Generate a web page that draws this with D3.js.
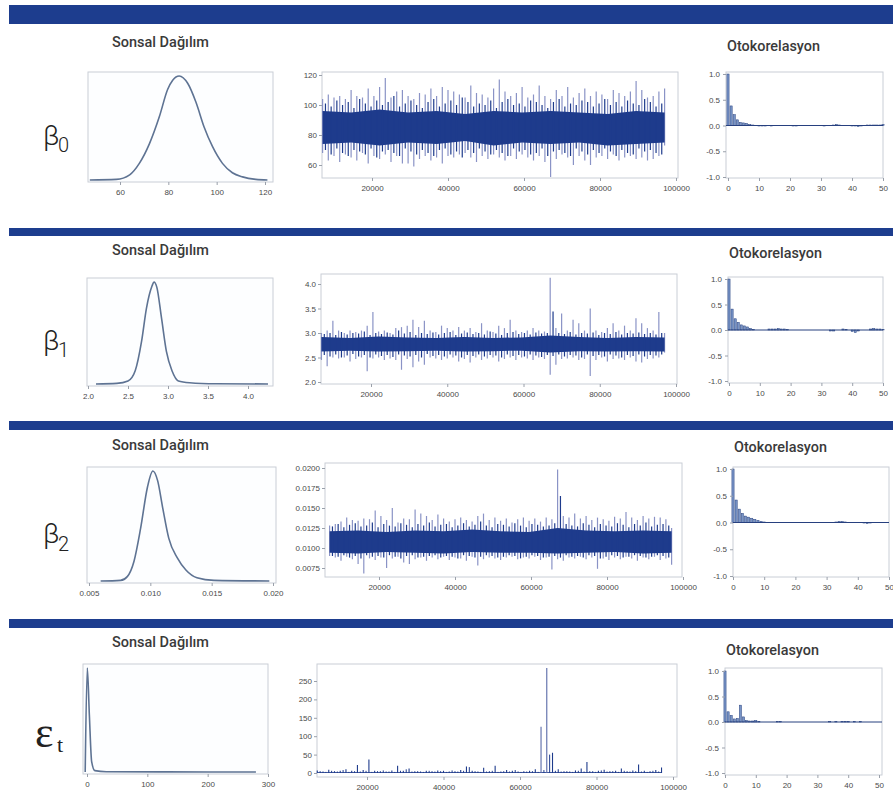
<!doctype html>
<html lang="tr">
<head>
<meta charset="utf-8">
<script src="https://cdnjs.cloudflare.com/ajax/libs/d3/7.8.5/d3.min.js"></script>
<style>
  body { margin: 0; background: #fff; }
  svg { display: block; }
  .tick text { font-family: 'Liberation Sans', Arial, sans-serif; font-size: 8px; fill: #4a4a4a; }
  .tick line { stroke: #9aa0aa; }
  .domain { display: none; }
  .ptitle { font-family: Roboto, 'Noto Sans', sans-serif; font-weight: 500; font-size: 14px; fill: #3a3a3a; }
</style>
</head>
<body>
<script>

// ---- data ----

const paramNames = ["β", "β", "β", "ε"];
const paramSubs = ["0", "1", "2", "t"];

// posterior density curves (x value, relative height)
const densB0x = [47.5, 58.5, 64, 68, 72.2, 76.3, 79.7, 81.8, 84.5, 88, 91.4, 94.8, 98.3, 102.4, 106.5, 110.7, 116.2, 121];
const densB0y = [0, 0.006, 0.05, 0.16, 0.35, 0.61, 0.87, 0.96, 1.0, 0.93, 0.75, 0.51, 0.32, 0.16, 0.07, 0.03, 0.006, 0];
const densB1x = [2.1, 2.36, 2.5, 2.59, 2.67, 2.73, 2.8, 2.825, 2.86, 2.92, 2.98, 3.05, 3.13, 3.27, 3.6, 4.25];
const densB1y = [0, 0.006, 0.03, 0.13, 0.42, 0.74, 0.96, 1.0, 0.95, 0.64, 0.32, 0.13, 0.03, 0.013, 0.003, 0];
const densB2x = [0.00595, 0.00758, 0.00812, 0.00867, 0.00921, 0.00976, 0.0102, 0.0106, 0.0110, 0.0115, 0.0122, 0.0129, 0.0138, 0.0152, 0.0197];
const densB2y = [0, 0.006, 0.04, 0.18, 0.48, 0.85, 1.0, 0.91, 0.67, 0.39, 0.21, 0.10, 0.03, 0.006, 0];
const densEx = [-3, 0.5, 3.9, 7.7, 13, 32, 132, 280];
const densEy = [0, 1.0, 0.55, 0.1, 0.013, 0.003, 0.001, 0];

// trace plots: iteration bins with the extreme high / low values in each
const iters = [7000, 8500, 10000, 11500, 13000, 14500, 16000, 17500, 19000, 20500,
  22000, 23500, 25000, 26500, 28000, 29500, 31000, 32500, 34000, 35500,
  37000, 38500, 40000, 41500, 43000, 44500, 46000, 47500, 49000, 50500,
  52000, 53500, 55000, 56500, 58000, 59500, 61000, 62500, 64000, 65500,
  67000, 68500, 70000, 71500, 73000, 74500, 76000, 77500, 79000, 80500,
  82000, 83500, 85000, 86500, 88000, 89500, 91000, 92500, 94000, 95500, 97000];

const traceB0hi = [104, 107, 105, 106, 104, 110, 106, 105, 111, 106, 112, 118, 105, 109, 110, 106, 104, 108, 107, 111,
  106, 112, 110, 109, 107, 105, 113, 108, 107, 105, 111, 117, 109, 106, 108, 112, 105, 107, 113, 106,
  104, 110, 106, 112, 105, 108, 111, 106, 109, 107, 104, 110, 108, 106, 109, 116, 110, 105, 106, 109, 111];
const traceB0lo = [68, 63, 66, 62, 67, 65, 63, 68, 61, 66, 64, 67, 62, 66, 61, 61, 59, 64, 66, 63,
  65, 61, 66, 65, 67, 68, 65, 62, 66, 64, 67, 65, 63, 66, 64, 67, 65, 63, 66, 62,
  52, 64, 67, 65, 60, 66, 63, 60, 65, 66, 64, 67, 63, 65, 66, 64, 65, 63, 64, 66, 73];

const traceB1hi = [3.0, 3.05, 3.25, 3.05, 3.0, 3.05, 3.02, 3.05, 3.15, 3.43, 3.03, 3.05, 3.0, 3.1, 3.12, 3.15, 3.27, 3.12, 3.25, 3.05,
  3.02, 3.15, 3.1, 3.05, 3.12, 3.05, 3.1, 3.02, 3.2, 3.05, 3.02, 3.15, 3.1, 3.27, 3.05, 3.02, 3.05, 3.1, 3.05, 3.03,
  4.13, 3.1, 3.4, 3.05, 3.27, 3.2, 3.05, 3.5, 3.05, 3.02, 3.1, 3.2, 3.05, 3.15, 3.05, 3.3, 3.2, 3.1, 3.05, 3.43, 3.0];
const traceB1lo = [2.45, 2.32, 2.5, 2.48, 2.5, 2.42, 2.47, 2.5, 2.22, 2.48, 2.5, 2.45, 2.48, 2.45, 2.25, 2.47, 2.3, 2.42, 2.35, 2.5,
  2.48, 2.45, 2.48, 2.5, 2.42, 2.47, 2.4, 2.5, 2.45, 2.48, 2.5, 2.42, 2.47, 2.5, 2.45, 2.5, 2.48, 2.45, 2.5, 2.47,
  2.15, 2.35, 2.47, 2.48, 2.5, 2.45, 2.47, 2.12, 2.45, 2.5, 2.42, 2.47, 2.48, 2.45, 2.5, 2.42, 2.4, 2.47, 2.48, 2.5, 2.6];

const traceB2hi = [0.0128, 0.0130, 0.0133, 0.0138, 0.0135, 0.0134, 0.0137, 0.0136, 0.0147, 0.0140, 0.0135, 0.0150, 0.0132, 0.0137, 0.0136, 0.0148, 0.0143, 0.0140, 0.0135, 0.0142,
  0.0137, 0.0133, 0.0136, 0.0138, 0.0135, 0.0133, 0.0140, 0.0143, 0.0135, 0.0138, 0.0134, 0.0137, 0.0132, 0.0136, 0.0138, 0.0134, 0.0137, 0.0133, 0.0138, 0.0136,
  0.0198, 0.0140, 0.0138, 0.0143, 0.0137, 0.0140, 0.0135, 0.0138, 0.0136, 0.0134, 0.0139, 0.0137, 0.0145, 0.0138, 0.0135, 0.0140, 0.0137, 0.0139, 0.0138, 0.0136, 0.0125];
const traceB2lo = [0.0090, 0.0088, 0.0084, 0.0089, 0.0086, 0.0080, 0.0068, 0.0087, 0.0085, 0.0088, 0.0075, 0.0087, 0.0089, 0.0082, 0.0080, 0.0086, 0.0088, 0.0084, 0.0088, 0.0086,
  0.0089, 0.0085, 0.0088, 0.0087, 0.0084, 0.0089, 0.0078, 0.0086, 0.0088, 0.0087, 0.0085, 0.0088, 0.0089, 0.0086, 0.0088, 0.0087, 0.0089, 0.0085, 0.0088, 0.0073,
  0.0086, 0.0084, 0.0088, 0.0087, 0.0089, 0.0086, 0.0088, 0.0074, 0.0087, 0.0085, 0.0088, 0.0086, 0.0089, 0.0087, 0.0084, 0.0088, 0.0086, 0.0089, 0.0085, 0.0087, 0.0079];

const traceEhi = [7, 4, 9, 5, 6, 10, 6, 22, 8, 37, 6, 5, 4, 7, 20, 6, 12, 5, 4, 6,
  5, 7, 6, 4, 5, 8, 18, 6, 4, 14, 5, 20, 4, 8, 6, 4, 5, 6, 10, 126,
  285, 55, 10, 5, 4, 7, 12, 30, 5, 6, 9, 5, 6, 12, 5, 7, 23, 6, 5, 8, 15];

// second, in-between set of bins: the darker, shorter excursions
const iters2 = [7750, 9250, 10750, 12250, 13750, 15250, 16750, 18250, 19750, 21250,
  22750, 24250, 25750, 27250, 28750, 30250, 31750, 33250, 34750, 36250,
  37750, 39250, 40750, 42250, 43750, 45250, 46750, 48250, 49750, 51250,
  52750, 54250, 55750, 57250, 58750, 60250, 61750, 63250, 64750, 66250,
  67750, 69250, 70750, 72250, 73750, 75250, 76750, 78250, 79750, 81250,
  82750, 84250, 85750, 87250, 88750, 90250, 91750, 93250, 94750, 96250];
const midB0hi = [101, 99, 103, 100, 102, 98, 104, 101, 99, 103, 100, 102, 106, 99, 101, 103, 100, 98, 102, 104,
  99, 101, 103, 100, 105, 102, 99, 101, 100, 103, 98, 102, 104, 100, 101, 99, 103, 102, 100, 98,
  102, 104, 99, 101, 100, 103, 102, 99, 101, 104, 100, 102, 99, 103, 101, 100, 104, 102, 99, 101];
const midB0lo = [70, 67, 71, 68, 66, 70, 69, 67, 71, 65, 69, 70, 68, 66, 71, 69, 67, 70, 68, 66,
  70, 71, 67, 69, 65, 70, 68, 71, 69, 67, 70, 68, 66, 71, 69, 70, 67, 68, 71, 66,
  69, 70, 68, 66, 71, 69, 67, 70, 68, 71, 69, 66, 70, 68, 67, 71, 69, 70, 68, 67];
const midB1hi = [2.98, 3.0, 2.96, 3.02, 2.97, 3.0, 2.99, 3.03, 2.96, 3.0, 2.98, 3.01, 2.97, 3.05, 2.99, 3.02, 2.96, 3.0, 2.98, 3.01,
  2.97, 3.0, 3.02, 2.96, 2.99, 3.01, 2.98, 3.0, 2.97, 3.03, 2.99, 2.96, 3.0, 3.02, 2.98, 3.0, 2.97, 3.01, 2.99, 3.0,
  3.44, 3.0, 2.98, 3.02, 2.97, 3.0, 2.99, 3.01, 2.96, 3.0, 2.98, 3.02, 2.97, 3.0, 2.99, 3.01, 2.98, 3.0, 2.97, 3.0];
const midB1lo = [2.55, 2.52, 2.56, 2.5, 2.54, 2.57, 2.52, 2.55, 2.5, 2.56, 2.53, 2.55, 2.51, 2.56, 2.54, 2.52, 2.55, 2.5, 2.57, 2.53,
  2.55, 2.52, 2.56, 2.54, 2.5, 2.55, 2.53, 2.56, 2.52, 2.55, 2.54, 2.5, 2.56, 2.53, 2.55, 2.52, 2.56, 2.54, 2.51, 2.55,
  2.53, 2.56, 2.52, 2.55, 2.54, 2.5, 2.56, 2.53, 2.55, 2.52, 2.56, 2.54, 2.5, 2.55, 2.53, 2.56, 2.52, 2.55, 2.54, 2.56];
const midB2hi = [0.0127, 0.0130, 0.0126, 0.0129, 0.0131, 0.0127, 0.0128, 0.0132, 0.0126, 0.0130, 0.0128, 0.0127, 0.0131, 0.0129, 0.0126, 0.0130, 0.0128, 0.0132, 0.0127, 0.0129,
  0.0130, 0.0126, 0.0128, 0.0131, 0.0127, 0.0129, 0.0133, 0.0128, 0.0126, 0.0130, 0.0129, 0.0127, 0.0131, 0.0128, 0.0126, 0.0130, 0.0129, 0.0127, 0.0128, 0.0131,
  0.0165, 0.0130, 0.0128, 0.0127, 0.0131, 0.0129, 0.0126, 0.0130, 0.0128, 0.0127, 0.0131, 0.0129, 0.0126, 0.0130, 0.0128, 0.0132, 0.0127, 0.0129, 0.0130, 0.0128];
const midB2lo = [0.0090, 0.0089, 0.0091, 0.0088, 0.0090, 0.0087, 0.0091, 0.0089, 0.0090, 0.0088, 0.0091, 0.0089, 0.0087, 0.0090, 0.0091, 0.0088, 0.0089, 0.0090, 0.0091, 0.0088,
  0.0090, 0.0089, 0.0087, 0.0091, 0.0090, 0.0088, 0.0089, 0.0091, 0.0090, 0.0088, 0.0089, 0.0091, 0.0090, 0.0087, 0.0089, 0.0091, 0.0090, 0.0088, 0.0089, 0.0090,
  0.0088, 0.0091, 0.0089, 0.0090, 0.0088, 0.0091, 0.0090, 0.0087, 0.0089, 0.0091, 0.0090, 0.0088, 0.0089, 0.0091, 0.0090, 0.0088, 0.0089, 0.0091, 0.0090, 0.0088];
const midEhi = [5, 3, 6, 4, 8, 3, 5, 4, 6, 3, 5, 7, 4, 3, 6, 10, 4, 5, 3, 6,
  4, 5, 3, 7, 4, 6, 16, 5, 3, 4, 6, 3, 5, 4, 8, 3, 4, 5, 3, 8,
  50, 6, 4, 5, 3, 6, 4, 5, 3, 7, 4, 5, 3, 6, 4, 5, 4, 3, 6, 4];

// dense central band of each trace
const coreIters = [7000, 14500, 22000, 29500, 37000, 44500, 52000, 59500, 67000, 74500, 82000, 89500, 97000];
const coreB0hi = [96, 95, 97, 95, 96, 94, 96, 95, 96, 95, 94, 96, 95];
const coreB0lo = [74, 75, 73, 75, 74, 76, 73, 75, 74, 75, 73, 74, 75];
const coreB1hi = [2.92, 2.9, 2.93, 2.91, 2.9, 2.92, 2.9, 2.91, 2.95, 2.92, 2.9, 2.92, 2.91];
const coreB1lo = [2.62, 2.64, 2.62, 2.63, 2.64, 2.62, 2.63, 2.64, 2.6, 2.63, 2.62, 2.63, 2.62];
const coreB2hi = [0.0121, 0.0122, 0.0120, 0.0122, 0.0121, 0.0123, 0.0121, 0.0120, 0.0125, 0.0122, 0.0121, 0.0122, 0.0121];
const coreB2lo = [0.0094, 0.0093, 0.0095, 0.0094, 0.0093, 0.0095, 0.0094, 0.0094, 0.0093, 0.0094, 0.0095, 0.0093, 0.0094];
const coreEhi = [3, 3, 3, 3, 3, 3, 3, 3, 3, 3, 3, 3, 3];
const coreElo = [0, 0, 0, 0, 0, 0, 0, 0, 0, 0, 0, 0, 0];

// autocorrelation, lags 0..50
const acfB0 = [1.0, 0.38, 0.21, 0.11, 0.06, 0.05, 0.04, 0.02, 0.01, 0.0, -0.01, -0.01, -0.01, 0.0, -0.01, 0.0, 0.0, 0.0, 0.0, 0.0,
  0.0, -0.01, -0.01, 0.0, 0.0, 0.0, 0.0, 0.0, 0.0, 0.0, 0.0, -0.01, 0.0, 0.0, 0.01, 0.02, 0.01, 0.0, 0.0, 0.0,
  -0.01, -0.01, -0.02, -0.01, 0.0, 0.01, 0.01, 0.01, 0.01, 0.01, 0.02];
const acfB1 = [1.0, 0.41, 0.22, 0.15, 0.10, 0.08, 0.06, 0.03, 0.01, 0.0, 0.0, 0.0, 0.0, 0.02, 0.02, 0.02, 0.03, 0.02, 0.02, 0.01,
  0.0, 0.0, 0.0, 0.0, 0.0, 0.0, 0.0, 0.0, 0.0, 0.0, 0.0, 0.0, 0.0, -0.02, -0.02, 0.0, 0.0, 0.02, 0.01, 0.0,
  -0.03, -0.05, -0.02, 0.0, 0.0, 0.0, 0.02, 0.03, 0.02, 0.02, 0.01];
const acfB2 = [1.0, 0.42, 0.25, 0.17, 0.12, 0.10, 0.08, 0.06, 0.04, 0.02, 0.01, 0.0, 0.0, 0.0, 0.0, 0.0, 0.0, 0.0, 0.0, 0.0,
  0.0, 0.0, 0.0, 0.0, 0.0, 0.0, 0.0, 0.0, 0.0, 0.0, 0.0, 0.0, 0.0, 0.01, 0.02, 0.02, 0.01, 0.0, 0.0, 0.0,
  0.0, 0.0, -0.01, -0.02, -0.01, 0.0, 0.0, 0.0, 0.0, 0.0, 0.0];
const acfE = [1.0, 0.20, 0.13, 0.06, 0.07, 0.33, 0.10, 0.03, 0.02, 0.02, 0.03, 0.01, 0.0, 0.0, 0.0, 0.0, 0.0, 0.01, 0.01, 0.0,
  0.0, 0.0, 0.0, 0.0, 0.0, 0.0, 0.0, 0.0, 0.0, 0.0, 0.0, 0.0, 0.0, 0.0, 0.01, 0.0, 0.01, 0.0, 0.01, 0.01,
  0.01, 0.0, 0.01, 0.0, 0.01, 0.0, 0.0, 0.0, 0.0, 0.0, 0.0];

// tick labels
const densTicks = [[60, 80, 100, 120], [2.0, 2.5, 3.0, 3.5, 4.0], [0.005, 0.010, 0.015, 0.020], [0, 100, 200, 300]];
const densFmt = ["d", ".1f", ".3f", "d"];
const traceXTicks = [20000, 40000, 60000, 80000, 100000];
const traceYTicks = [[60, 80, 100, 120], [2.0, 2.5, 3.0, 3.5, 4.0], [0.0075, 0.0100, 0.0125, 0.0150, 0.0175, 0.0200], [0, 50, 100, 150, 200, 250]];
const traceYFmt = ["d", ".1f", ".4f", "d"];
const acfXTicks = [0, 10, 20, 30, 40, 50];
const acfYTicks = [-1, -0.5, 0, 0.5, 1];

// ---- layout (pixel boxes measured on the picture) ----
const W = 893, H = 801;
const rows = [
  { banner: [5, 19], title: 47, acfTitle: 51, sym: [43, 145, 58, 152],
    dens: [88, 72, 273, 182], densAnchor: [60, 120, 120, 265],
    trace: [322, 72, 678, 178], tx: [372, 676], ty: [60, 120, 165, 75],
    acf: [726, 72, 883, 178], ax: [728, 883], ay: [177, 74] },
  { banner: [228, 8], title: 255, acfTitle: 258, sym: [43, 350, 58, 357],
    dens: [87, 278, 273, 386], densAnchor: [2.0, 4.0, 88, 248],
    trace: [321, 274, 677, 384], tx: [371, 676], ty: [2.0, 4.0, 382, 284],
    acf: [728, 277, 883, 383], ax: [729, 883], ay: [381, 279] },
  { banner: [421, 9], title: 450, acfTitle: 452, sym: [43, 543, 58, 551],
    dens: [87, 467, 276, 583], densAnchor: [0.005, 0.020, 89, 273],
    trace: [325, 463, 682, 577], tx: [379, 683], ty: [0.0075, 0.0200, 568, 468],
    acf: [733, 467, 889, 577], ax: [733, 889], ay: [576, 469] },
  { banner: [619, 9], title: 647, acfTitle: 655, sym: [35, 747, 57, 752],
    dens: [83, 664, 268, 774], densAnchor: [0, 300, 87, 268],
    trace: [317, 664, 677, 777], tx: [367, 673], ty: [0, 250, 773, 681],
    acf: [725, 668, 882, 775], ax: [725, 879], ay: [773, 671] }
];

const dens = [[densB0x, densB0y], [densB1x, densB1y], [densB2x, densB2y], [densEx, densEy]];
const traces = [
  { hi: traceB0hi, lo: traceB0lo, mHi: midB0hi, mLo: midB0lo, cHi: coreB0hi, cLo: coreB0lo },
  { hi: traceB1hi, lo: traceB1lo, mHi: midB1hi, mLo: midB1lo, cHi: coreB1hi, cLo: coreB1lo },
  { hi: traceB2hi, lo: traceB2lo, mHi: midB2hi, mLo: midB2lo, cHi: coreB2hi, cLo: coreB2lo },
  { hi: traceEhi, lo: null, mHi: midEhi, mLo: null, cHi: coreEhi, cLo: coreElo }
];
const acfs = [acfB0, acfB1, acfB2, acfE];

const navy = "#1e3b8c";
const light = "#8a93c6";
const frameCol = "#c9ced6";
const minus = s => s.replace("−", "-");

const svg = d3.select("body").append("svg").attr("width", W).attr("height", H);
svg.append("rect").attr("width", W).attr("height", H).attr("fill", "#fff");

rows.forEach((r, k) => {

  // blue banner
  svg.append("rect").attr("x", 9).attr("y", r.banner[0]).attr("width", W - 9).attr("height", r.banner[1]).attr("fill", "#1d3d8e");

  // titles
  svg.append("text").attr("class", "ptitle").attr("x", 112).attr("y", r.title)
    .attr("textLength", 97).attr("lengthAdjust", "spacingAndGlyphs").text("Sonsal Dağılım");
  svg.append("text").attr("class", "ptitle").attr("x", r.acf[0] + 1).attr("y", r.acfTitle)
    .attr("textLength", 93).attr("lengthAdjust", "spacingAndGlyphs").text("Otokorelasyon");

  // parameter symbol
  const serif = k == 3;
  svg.append("text")
    .attr("font-family", serif ? "'Liberation Serif', serif" : "Roboto, sans-serif")
    .attr("font-weight", serif ? 400 : 300)
    .attr("font-size", serif ? 44 : 28)
    .attr("x", r.sym[0]).attr("y", r.sym[1]).attr("fill", "#222").text(paramNames[k]);
  svg.append("text")
    .attr("font-family", serif ? "'Liberation Serif', serif" : "Roboto, sans-serif")
    .attr("font-weight", serif ? 400 : 300)
    .attr("font-size", serif ? 22 : 20).attr("x", r.sym[2]).attr("y", r.sym[3]).attr("fill", "#222").text(paramSubs[k]);

  // ---- density panel ----
  const d = r.dens;
  const dx = d3.scaleLinear().domain([r.densAnchor[0], r.densAnchor[1]]).range([r.densAnchor[2], r.densAnchor[3]]);
  const dy = d3.scaleLinear().domain([0, 1]).range([d[3] - 2, d[1] + 4]);
  svg.append("rect").attr("x", d[0]).attr("y", d[1]).attr("width", d[2] - d[0]).attr("height", d[3] - d[1])
    .attr("fill", "#fdfeff").attr("stroke", frameCol);
  const dpts = dens[k][0].map((v, i) => [v, dens[k][1][i]]);
  svg.append("path").datum(dpts)
    .attr("d", d3.line().x(p => dx(p[0])).y(p => dy(p[1])).curve(d3.curveMonotoneX))
    .attr("fill", "none").attr("stroke", "#5e7393").attr("stroke-width", 1.6);
  svg.append("g").attr("transform", `translate(0,${d[3]})`)
    .call(d3.axisBottom(dx).tickValues(densTicks[k]).tickFormat(d3.format(densFmt[k])).tickSize(3).tickPadding(4));

  // ---- trace panel ----
  const t = r.trace;
  const tx = d3.scaleLinear().domain([20000, 100000]).range(r.tx);
  const ty = d3.scaleLinear().domain([r.ty[0], r.ty[1]]).range([r.ty[2], r.ty[3]]);
  svg.append("rect").attr("x", t[0]).attr("y", t[1]).attr("width", t[2] - t[0]).attr("height", t[3] - t[1])
    .attr("fill", "#fff").attr("stroke", frameCol);
  const tr = traces[k];
  const g = svg.append("g");
  const core = coreIters.map((it, i) => [it, tr.cLo[i], tr.cHi[i]]);
  const coreArea = d3.area().x(p => tx(p[0])).y0(p => ty(p[1])).y1(p => ty(p[2]));
  if (tr.lo) {
    g.selectAll(".sp").data(iters).join("line").attr("class", "sp")
      .attr("x1", it => tx(it)).attr("x2", it => tx(it))
      .attr("y1", (it, i) => ty(tr.hi[i])).attr("y2", (it, i) => ty(tr.lo[i]))
      .attr("stroke", light).attr("stroke-width", 1.2);
    g.append("path").datum(core).attr("d", coreArea).attr("fill", navy);
    g.selectAll(".mp").data(iters2).join("line").attr("class", "mp")
      .attr("x1", it => tx(it)).attr("x2", it => tx(it))
      .attr("y1", (it, i) => ty(tr.mHi[i])).attr("y2", (it, i) => ty(tr.mLo[i]))
      .attr("stroke", navy).attr("stroke-width", 1.2);
  } else {
    g.append("path").datum(core).attr("d", coreArea).attr("fill", navy).attr("opacity", 0.85);
    g.selectAll(".sp").data(iters).join("line").attr("class", "sp")
      .attr("x1", it => tx(it)).attr("x2", it => tx(it))
      .attr("y1", (it, i) => ty(tr.hi[i])).attr("y2", ty(0))
      .attr("stroke", (it, i) => tr.hi[i] > 100 ? "#5a6aa8" : navy).attr("stroke-width", 1.1);
    g.selectAll(".mp").data(iters2).join("line").attr("class", "mp")
      .attr("x1", it => tx(it)).attr("x2", it => tx(it))
      .attr("y1", (it, i) => ty(tr.mHi[i])).attr("y2", ty(0))
      .attr("stroke", navy).attr("stroke-width", 1);
  }
  svg.append("g").attr("transform", `translate(0,${t[3]})`)
    .call(d3.axisBottom(tx).tickValues(traceXTicks).tickFormat(d3.format("d")).tickSize(3).tickPadding(4));
  svg.append("g").attr("transform", `translate(${t[0]},0)`)
    .call(d3.axisLeft(ty).tickValues(traceYTicks[k]).tickFormat(d3.format(traceYFmt[k])).tickSize(3).tickPadding(2));

  // ---- autocorrelation panel ----
  const a = r.acf;
  const ax = d3.scaleLinear().domain([0, 50]).range(r.ax);
  const ay = d3.scaleLinear().domain([-1, 1]).range(r.ay);
  svg.append("rect").attr("x", a[0]).attr("y", a[1]).attr("width", a[2] - a[0]).attr("height", a[3] - a[1])
    .attr("fill", "#fff").attr("stroke", frameCol);
  svg.append("g").selectAll("rect").data(acfs[k]).join("rect")
    .attr("x", (v, i) => ax(i - 0.35))
    .attr("width", ax(0.7) - ax(0))
    .attr("y", v => Math.min(ay(v), ay(0)))
    .attr("height", v => Math.abs(ay(v) - ay(0)))
    .attr("fill", "#7894c6").attr("stroke", "#27407f").attr("stroke-width", 0.5);
  svg.append("line").attr("x1", a[0]).attr("x2", a[2]).attr("y1", ay(0)).attr("y2", ay(0))
    .attr("stroke", "#27407f").attr("stroke-width", 1);
  svg.append("g").attr("transform", `translate(0,${a[3]})`)
    .call(d3.axisBottom(ax).tickValues(acfXTicks).tickSize(3).tickPadding(4));
  svg.append("g").attr("transform", `translate(${a[0]},0)`)
    .call(d3.axisLeft(ay).tickValues(acfYTicks).tickFormat(v => minus(d3.format(".1f")(v))).tickSize(3).tickPadding(3));
});

</script>
</body>
</html>
